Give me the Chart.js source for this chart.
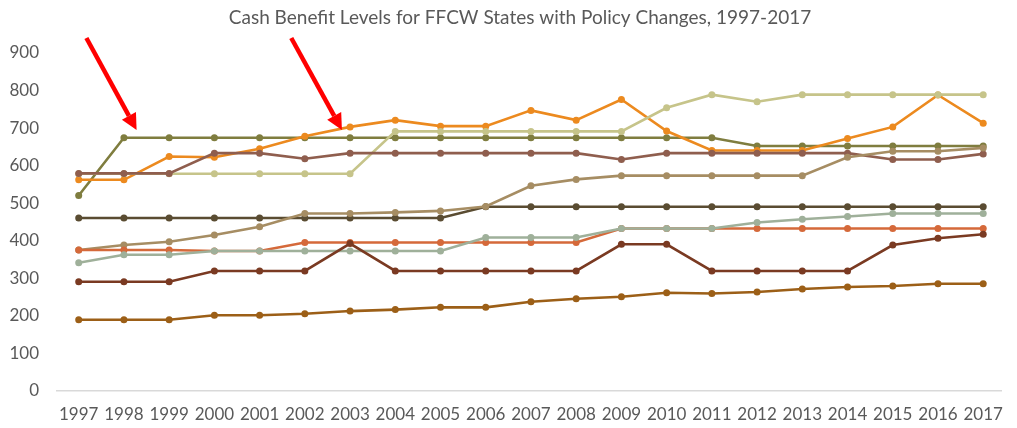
<!DOCTYPE html>
<html>
<head>
<meta charset="utf-8">
<script src="https://cdn.jsdelivr.net/npm/chart.js@4/dist/chart.umd.min.js"></script>
<style>
  html, body { margin: 0; padding: 0; background: #fff; }
  #wrap { width: 1017px; height: 428px; }
</style>
</head>
<body>
<div id="wrap"><canvas id="c" width="1017" height="428"></canvas></div>
<script>
const years = [1997,1998,1999,2000,2001,2002,2003,2004,2005,2006,2007,2008,2009,2010,2011,2012,2013,2014,2015,2016,2017];
const yTicks = [0,100,200,300,400,500,600,700,800,900];

const seriesKhaki    = [578,578,578,578,578,578,578,691,691,691,691,691,691,754,789,770,789,789,789,789,789];
const seriesOlive    = [520,674,674,674,674,674,674,674,674,674,674,674,674,674,674,652,652,652,652,652,652];
const seriesOrange   = [562,562,624,622,645,678,703,721,705,705,747,721,776,692,640,640,640,672,703,788,713];
const seriesRosy     = [579,579,579,633,633,618,633,633,633,633,633,633,616,633,633,633,633,633,616,616,631];
const seriesTan      = [375,388,397,415,437,472,472,475,479,491,546,563,573,573,573,573,573,622,638,638,647];
const seriesDark     = [460,460,460,460,460,460,460,460,460,490,490,490,490,490,490,490,490,490,490,490,490];
const seriesRed      = [375,375,375,372,372,395,395,395,395,395,395,395,432,432,432,432,432,432,432,432,432];
const seriesSage     = [341,362,362,372,372,372,372,372,372,408,408,408,432,432,432,448,457,464,472,472,472];
const seriesMaroon   = [290,290,290,319,319,319,392,319,319,319,319,319,390,390,319,319,319,319,388,406,417];
const seriesGold     = [189,189,189,201,201,205,212,216,222,222,237,245,250,261,259,263,271,276,279,285,285];

const titleText = 'Cash Benefit Levels for FFCW States with Policy Changes, 1997-2017';

// annotation arrows (in data units): tail -> tip
const arrowTails = [[1997.17, 940], [2001.70, 940]];
const arrowTips  = [[1998.28, 695], [2002.82, 695]];

const series = [
  {v: seriesGold,   c: '#9c5f17'},
  {v: seriesMaroon, c: '#7a3a22'},
  {v: seriesSage,   c: '#9fb09a'},
  {v: seriesRed,    c: '#d5693a'},
  {v: seriesTan,    c: '#a68d63'},
  {v: seriesDark,   c: '#5a4c32'},
  {v: seriesRosy,   c: '#8f5e4e'},
  {v: seriesKhaki,  c: '#c6c48a'},
  {v: seriesOrange, c: '#ec8a1f'},
  {v: seriesOlive,  c: '#7f7d3f'},
];

const datasets = series.map(s => ({
  data: s.v.map((y, i) => ({x: years[i], y: y})),
  borderColor: s.c,
  backgroundColor: s.c,
  borderWidth: 2.6,
  pointRadius: 3.5,
  pointBorderWidth: 0,
  pointHoverRadius: 3.5,
  tension: 0,
  fill: false
}));

const decorPlugin = {
  id: 'decor',
  afterDraw(chart) {
    const {ctx, scales: {x, y}} = chart;
    ctx.save();
    // title
    ctx.fillStyle = '#595959';
    ctx.font = '19px Lato';
    ctx.textAlign = 'center';
    ctx.textBaseline = 'middle';
    ctx.fillText(titleText, 520, 18);
    // arrows
    ctx.strokeStyle = '#ff0000';
    ctx.fillStyle = '#ff0000';
    ctx.lineWidth = 4.5;
    ctx.lineCap = 'butt';
    for (let i = 0; i < arrowTails.length; i++) {
      const x0 = x.getPixelForValue(arrowTails[i][0]);
      const y0 = y.getPixelForValue(arrowTails[i][1]);
      const x1 = x.getPixelForValue(arrowTips[i][0]);
      const y1 = y.getPixelForValue(arrowTips[i][1]);
      const ang = Math.atan2(y1 - y0, x1 - x0);
      const headLen = 16, headW = 8;
      const bx = x1 - headLen * Math.cos(ang);
      const by = y1 - headLen * Math.sin(ang);
      ctx.beginPath();
      ctx.moveTo(x0, y0);
      ctx.lineTo(bx, by);
      ctx.stroke();
      ctx.beginPath();
      ctx.moveTo(x1, y1);
      ctx.lineTo(bx + headW * Math.sin(ang), by - headW * Math.cos(ang));
      ctx.lineTo(bx - headW * Math.sin(ang), by + headW * Math.cos(ang));
      ctx.closePath();
      ctx.fill();
    }
    ctx.restore();
  }
};

new Chart(document.getElementById('c'), {
  type: 'line',
  data: { datasets },
  plugins: [decorPlugin],
  options: {
    responsive: false,
    animation: false,
    layout: { padding: { left: 0, right: 2, top: 53, bottom: -11 } },
    plugins: {
      legend: { display: false },
      tooltip: { enabled: false },
      title: { display: false }
    },
    scales: {
      x: {
        type: 'linear',
        min: 1996.52,
        max: 2017.4,
        grid: { display: false, drawTicks: false },
        border: { display: true, color: '#d9d9d9', width: 1.5 },
        afterBuildTicks(scale) { scale.ticks = years.map(v => ({value: v})); },
        ticks: {
          color: '#595959',
          font: { family: 'Lato', size: 17 },
          padding: 14,
          maxRotation: 0,
          autoSkip: false,
          callback: (v) => String(v)
        }
      },
      y: {
        min: 0,
        max: 900,
        grid: { display: false, drawTicks: false },
        border: { display: false },
        afterBuildTicks(scale) { scale.ticks = yTicks.map(v => ({value: v})); },
        afterFit(scale) { scale.width = 57; },
        ticks: {
          color: '#595959',
          font: { family: 'Lato', size: 17 },
          padding: 18,
          callback: (v) => String(v)
        }
      }
    }
  }
});
</script>
</body>
</html>
